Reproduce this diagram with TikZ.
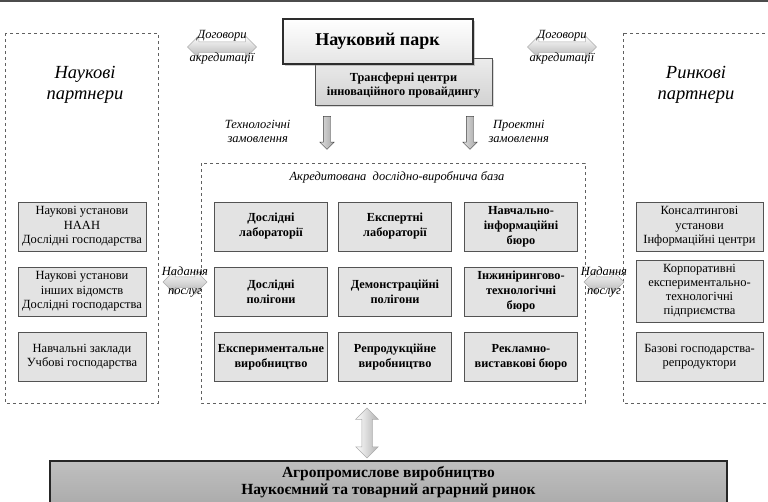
\documentclass[tikz,border=0pt]{standalone}
\usepackage{fontspec}
\setmainfont{Liberation Serif}
\usepackage{tikz}
\usetikzlibrary{positioning,shapes.arrows,shadows}
\tikzset{>=stealth}
\tikzset{
  zone/.style={draw=gray!75!black,dashed,line width=0.8pt},
  partbox/.style={draw=gray!65!black,line width=1pt,fill=gray!22,align=center,
    inner sep=1pt,font=\fontsize{12.5}{14.5}\selectfont},
  basebox/.style={partbox,minimum width=113,minimum height=49,
    font=\fontsize{12.3}{15}\selectfont\bfseries},
  sidebox/.style={partbox,minimum width=128,minimum height=49},
  lbl/.style={inner sep=0.5pt,font=\fontsize{12.5}{14}\selectfont\itshape,align=center},
  bigl/.style={align=center,font=\fontsize{18.5}{21}\selectfont\itshape},
  harrow/.style={shape=double arrow,draw=gray!65,line width=0.5pt,top color=white,
    bottom color=gray!60,inner sep=5pt,double arrow head extend=6pt},
  varrow/.style={shape=single arrow,shape border rotate=270,draw=gray!50!black,
    line width=0.4pt,left color=gray!25,right color=gray!70,inner sep=3.5pt,
    single arrow head extend=3.5pt}
}
\begin{document}
\begin{tikzpicture}[x=1pt,y=-1pt]
  \useasboundingbox (0,0) rectangle (768,501);
  \draw[gray!60!black,line width=2pt] (0,1) -- (768,1);
  \draw[zone] (5,33) rectangle (158,403);
  \draw[zone] (201,163) rectangle (585,403);
  \draw[zone] (623,33) rectangle (780,403);
  \node[bigl] (scipart) at (85,85) {Наукові\\партнери};
  \node[bigl] (mktpart) at (696,85) {Ринкові\\партнери};
  \node[partbox,minimum width=177,minimum height=47,top color=gray!15,bottom color=gray!35,
    drop shadow={opacity=0.3}] (transfer) at (403.5,81.5) {};
  \node[align=center,inner sep=0pt,font=\fontsize{12.3}{14}\selectfont\bfseries]
    (transtext) at (403.5,85.5) {Трансферні центри\\інноваційного провайдингу};
  \node[draw=gray!35!black,line width=2pt,minimum width=190,minimum height=45,
    top color=white,bottom color=gray!20,drop shadow={opacity=0.4},
    font=\fontsize{18}{20}\selectfont\bfseries] (park) at (377.5,41) {Науковий парк};
  \node[harrow,minimum height=69] (accrL) at (222,47) {};
  \node[lbl,above=0pt of accrL] {Договори};
  \node[lbl,below=0pt of accrL] {акредитації};
  \node[harrow,minimum height=69] (accrR) at (562,47) {};
  \node[lbl,above=0pt of accrR] {Договори};
  \node[lbl,below=0pt of accrR] {акредитації};
  \node[varrow,minimum height=33] (techord) at (327,131) {};
  \node[lbl,left=32pt of techord] {Технологічні\\замовлення};
  \node[varrow,minimum height=33] (projord) at (470,131) {};
  \node[lbl,right=14pt of projord] {Проектні\\замовлення};
  \node[lbl,font=\fontsize{12.5}{14}\selectfont\itshape] (basetitle) at (397,177)
    {Акредитована\ \ дослідно-виробнича база};
  \node[sidebox] (naas) at (82,226.5) {Наукові установи\\НААН\\Дослідні господарства};
  \node[sidebox] (otherinst) at (82,291.5) {Наукові установи\\інших відомств\\Дослідні господарства};
  \node[sidebox] (edu) at (82,356.5) {Навчальні заклади\\Учбові господарства};
  \node[basebox] (explab) at (271,226.5) {Дослідні\\лабораторії};
  \node[basebox] (exprtlab) at (395,226.5) {Експертні\\лабораторії};
  \node[basebox] (edubur) at (521,226.5) {Навчально-\\інформаційні\\бюро};
  \node[basebox] (exppoly) at (271,292) {Дослідні\\полігони};
  \node[basebox] (demopoly) at (395,292) {Демонстраційні\\полігони};
  \node[basebox] (engbur) at (521,292) {Інжинірингово-\\технологічні\\бюро};
  \node[basebox] (expprod) at (271,357) {Експериментальне\\виробництво};
  \node[basebox] (reprod) at (395,357) {Репродукційне\\виробництво};
  \node[basebox] (advbur) at (521,357) {Рекламно-\\виставкові бюро};
  \node[sidebox,minimum width=127] (consult) at (699.5,226.5) {Консалтингові\\установи\\Інформаційні центри};
  \node[sidebox,minimum width=127,minimum height=62,font=\fontsize{12.5}{14}\selectfont]
    (corp) at (699.5,291) {Корпоративні\\експериментально-\\технологічні\\підприємства};
  \node[sidebox,minimum width=127] (basefarm) at (699.5,356.5) {Базові господарства-\\репродуктори};
  \node[harrow,minimum height=44,double arrow head extend=7pt] (servL) at (185,282) {};
  \node[lbl,above=0pt of servL] {Надання};
  \node[lbl,below=0pt of servL] {послуг};
  \node[harrow,minimum height=40,double arrow head extend=7pt] (servR) at (604,282) {};
  \node[lbl,above=0pt of servR] {Надання};
  \node[lbl,below=0pt of servR] {послуг};
  \node[harrow,minimum height=50,shape border rotate=90,left color=white,right color=gray!60,
    inner sep=5pt] (flow) at (367,433) {};
  \node[draw=gray!30!black,line width=1.2pt,minimum width=677,minimum height=42,
    top color=gray!50,bottom color=gray!65,align=center,
    font=\fontsize{15.5}{17.5}\selectfont\bfseries] (market) at (388.5,482)
    {Агропромислове виробництво\\Наукоємний та товарний аграрний ринок};
\end{tikzpicture}
\end{document}
